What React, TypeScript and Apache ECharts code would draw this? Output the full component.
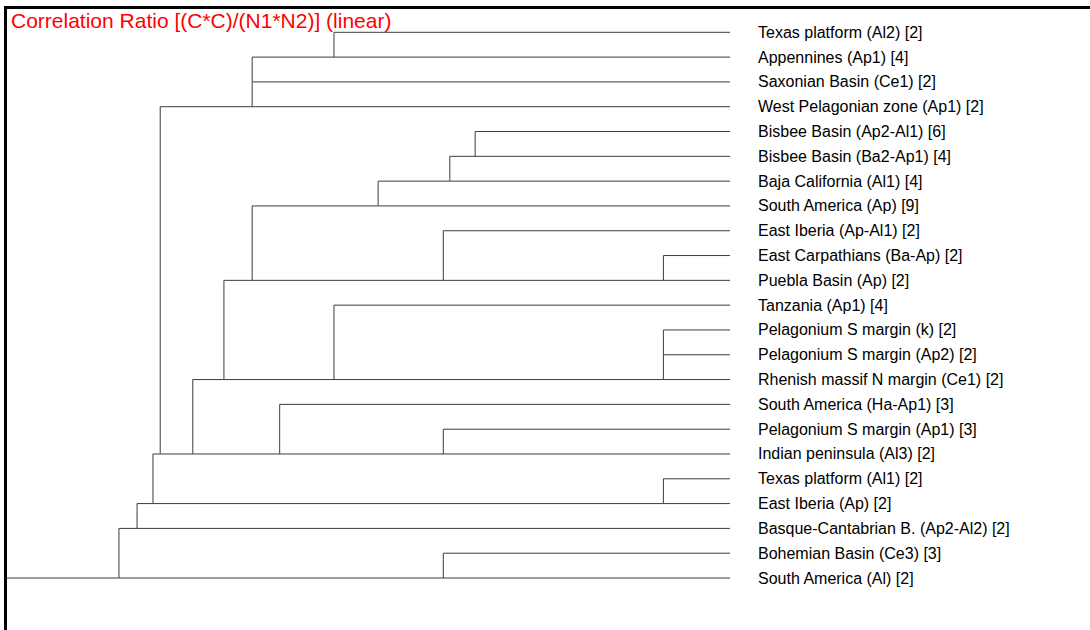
import React, { useEffect, useRef } from "react";
import * as echarts from "echarts";

// Leaves, top to bottom
const leafLabels: string[] = [
  "Texas platform (Al2) [2]",
  "Appennines (Ap1) [4]",
  "Saxonian Basin (Ce1) [2]",
  "West Pelagonian zone (Ap1) [2]",
  "Bisbee Basin (Ap2-Al1) [6]",
  "Bisbee Basin (Ba2-Ap1) [4]",
  "Baja California (Al1) [4]",
  "South America (Ap) [9]",
  "East Iberia (Ap-Al1) [2]",
  "East Carpathians (Ba-Ap) [2]",
  "Puebla Basin (Ap) [2]",
  "Tanzania (Ap1) [4]",
  "Pelagonium S margin (k) [2]",
  "Pelagonium S margin (Ap2) [2]",
  "Rhenish massif N margin (Ce1) [2]",
  "South America (Ha-Ap1) [3]",
  "Pelagonium S margin (Ap1) [3]",
  "Indian peninsula (Al3) [2]",
  "Texas platform (Al1) [2]",
  "East Iberia (Ap) [2]",
  "Basque-Cantabrian B. (Ap2-Al2) [2]",
  "Bohemian Basin (Ce3) [3]",
  "South America (Al) [2]",
];

// Merges: cluster ids 0..22 are leaves, merge k creates cluster 23 + k
const mergeA: number[] = [0, 23, 24, 4, 26, 27, 9, 8, 28, 12, 32, 11, 31, 16, 15, 35, 25, 18, 39, 41, 21, 42];
const mergeB: number[] = [1, 2, 3, 5, 6, 7, 10, 29, 30, 13, 14, 33, 34, 17, 36, 37, 38, 19, 40, 20, 22, 43];
const mergeLevel: number[] = [
  0.453, 0.34, 0.34, 0.648, 0.613, 0.514, 0.908, 0.604, 0.34, 0.908, 0.908,
  0.453, 0.301, 0.604, 0.378, 0.258, 0.213, 0.908, 0.203, 0.181, 0.604, 0.156,
];

const titleText = "Correlation Ratio [(C*C)/(N1*N2)] (linear)";

function buildSegments(): number[][] {
  const n = leafLabels.length;
  const rowOf: number[] = [];
  const levelOf: number[] = [];
  for (let i = 0; i < n; i++) {
    rowOf.push(i);
    levelOf.push(1);
  }
  const segs: number[][] = [];
  for (let k = 0; k < mergeA.length; k++) {
    const a = mergeA[k];
    const b = mergeB[k];
    const s = mergeLevel[k];
    const ya = rowOf[a];
    const yb = rowOf[b];
    segs.push([s, ya, s, yb]);
    if (levelOf[a] !== s) segs.push([s, ya, levelOf[a], ya]);
    if (levelOf[b] !== s) segs.push([s, yb, levelOf[b], yb]);
    rowOf.push(Math.max(ya, yb));
    levelOf.push(s);
  }
  const root = rowOf.length - 1;
  segs.push([0, rowOf[root], levelOf[root], rowOf[root]]);
  return segs;
}

export default function App() {
  const ref = useRef<HTMLDivElement>(null);
  useEffect(() => {
    if (!ref.current) return;
    const chart = echarts.init(ref.current, undefined, { renderer: "svg" });
    const segs = buildSegments();
    chart.setOption({
      animation: false,
      backgroundColor: "#ffffff",
      grid: { left: 6, right: 360, top: 32.3, bottom: 52, containLabel: false },
      xAxis: { type: "value", min: 0, max: 1, show: false },
      yAxis: {
        type: "category",
        data: leafLabels,
        inverse: true,
        boundaryGap: false,
        position: "right",
        axisLine: { show: false },
        axisTick: { show: false },
        splitLine: { show: false },
        axisLabel: {
          interval: 0,
          margin: 28,
          fontSize: 16,
          padding: [2, 0, 0, 0],
          color: "#000000",
          fontFamily: "'Liberation Sans', Arial, sans-serif",
        },
      },
      series: [
        {
          type: "custom",
          data: segs,
          encode: { x: [0, 2], y: [1, 3] },
          renderItem: (params: any, api: any) => {
            const p1 = api.coord([api.value(0), api.value(1)]);
            const p2 = api.coord([api.value(2), api.value(3)]);
            return {
              type: "line",
              shape: { x1: p1[0], y1: p1[1], x2: p2[0], y2: p2[1] },
              style: { stroke: "#3c3c3c", lineWidth: 1 },
            };
          },
          silent: true,
        },
      ],
      graphic: [
        {
          type: "line",
          shape: { x1: 4, y1: 7.5, x2: 1090, y2: 7.5 },
          style: { stroke: "#000000", lineWidth: 3 },
        },
        {
          type: "line",
          shape: { x1: 5.5, y1: 6, x2: 5.5, y2: 630 },
          style: { stroke: "#000000", lineWidth: 3 },
        },
        {
          type: "text",
          x: 11,
          y: 20,
          style: {
            text: titleText,
            fill: "#ff0000",
            fontSize: 21,
            fontFamily: "'Liberation Sans', Arial, sans-serif",
            verticalAlign: "middle",
            align: "left",
          },
        },
      ],
    });
    return () => chart.dispose();
  }, []);
  return (
    <div
      ref={ref}
      style={{ position: "fixed", left: 0, top: 0, width: 1090, height: 630 }}
    />
  );
}
